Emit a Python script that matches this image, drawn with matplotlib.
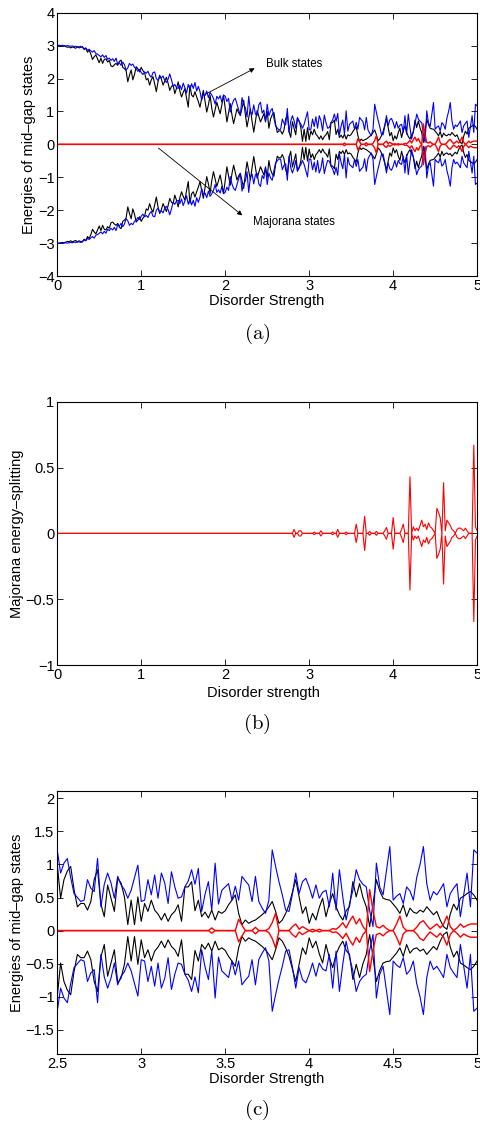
import numpy as np
import matplotlib
matplotlib.use('Agg')
import matplotlib.pyplot as plt

plt.rcParams['font.family'] = ['Liberation Sans', 'DejaVu Sans']
plt.rcParams['mathtext.fontset'] = 'cm'

# disorder strength grid (step 0.02 from 0 to 5)
disorder = np.round(np.arange(251) * 0.02, 2)

# upper bulk state energies (the spectrum is symmetric, lower = -upper)
black_upper = [
    3.00, 3.00, 2.99, 2.98, 2.99, 2.97, 2.95, 2.96, 2.93, 2.96, 2.94, 2.92, 2.96, 2.93, 2.95, 2.97, 2.88, 2.92, 2.80, 2.86, 2.74, 2.58, 2.66, 2.72, 2.60,
    2.48, 2.62, 2.46, 2.58, 2.60, 2.50, 2.55, 2.38, 2.36, 2.42, 2.46, 2.40, 2.52, 2.56, 2.34, 2.30, 2.24, 1.90, 2.10, 2.26, 1.96, 2.12, 2.36, 2.30, 2.20,
    2.34, 2.24, 2.18, 1.96, 2.00, 1.80, 1.96, 2.06, 1.84, 1.60, 1.90, 2.10, 1.98, 1.80, 1.92, 2.04, 1.86, 1.64, 1.76, 1.80, 1.54, 1.70, 1.90, 1.62, 1.44,
    1.58, 1.69, 1.40, 1.13, 1.79, 1.50, 1.44, 1.60, 1.44, 1.30, 1.13, 1.40, 1.64, 1.30, 0.98, 1.20, 1.49, 1.10, 0.83, 1.06, 1.28, 1.10, 0.93, 1.20, 1.49,
    1.10, 0.68, 0.96, 1.24, 0.90, 0.63, 0.85, 1.08, 0.96, 0.88, 1.10, 1.34, 0.90, 0.53, 0.80, 1.08, 0.70, 0.37, 0.70, 1.03, 0.85, 0.68, 0.80, 0.93, 0.70,
    1.00, 0.49, 0.77, 0.90, 0.97, 0.62, 0.36, 0.41, 0.41, 0.31, 0.44, 0.77, 0.92, 0.40, 0.21, 0.69, 0.49, 0.29, 0.79, 0.72, 0.51, 0.09, 0.46, 0.09, 0.51,
    0.14, 0.41, 0.29, 0.46, 0.31, 0.25, 0.16, 0.26, 0.14, 0.24, 0.29, 0.39, 0.14, 0.66, 0.66, 0.74, 0.30, 0.46, 0.21, 0.28, 0.19, 0.31, 0.16, 0.29, 0.26,
    0.30, 0.39, 0.46, 0.54, 0.26, 0.09, 0.16, 0.11, 0.14, 0.16, 0.20, 0.24, 0.29, 0.36, 0.44, 0.29, 0.11, 0.16, 0.26, 0.39, 0.58, 0.77, 0.51, 0.26, 0.36,
    0.11, 0.26, 0.16, 0.35, 0.49, 0.21, 0.41, 0.56, 0.36, 0.24, 0.16, 0.30, 0.36, 0.74, 0.51, 0.71, 0.50, 0.36, 0.06, 0.40, 0.77, 0.60, 0.49, 0.47, 0.46,
    0.40, 0.34, 0.26, 0.39, 0.21, 0.34, 0.28, 0.26, 0.31, 0.28, 0.36, 0.30, 0.24, 0.29, 0.16, 0.06, 0.02, 0.25, 0.40, 0.31, 0.49, 0.52, 0.56, 0.59, 0.54,
    0.46]

blue_upper = [
    3.01, 3.01, 3.00, 3.01, 3.00, 2.99, 3.00, 2.99, 2.98, 2.99, 2.97, 2.98, 2.97, 2.96, 2.98, 2.94, 2.91, 2.93, 2.86, 2.89, 2.84, 2.80, 2.85, 2.76, 2.74,
    2.70, 2.66, 2.72, 2.64, 2.70, 2.58, 2.62, 2.55, 2.60, 2.52, 2.62, 2.44, 2.48, 2.40, 2.50, 2.42, 2.26, 2.32, 2.46, 2.40, 2.44, 2.34, 2.30, 2.22, 2.28,
    2.18, 2.12, 2.20, 2.16, 2.22, 2.10, 2.04, 2.18, 2.20, 2.00, 1.94, 2.06, 2.02, 2.08, 1.94, 1.88, 1.98, 2.14, 1.96, 1.76, 1.82, 1.72, 1.70, 1.80, 1.66,
    1.86, 1.72, 1.56, 1.82, 1.66, 1.84, 1.70, 1.88, 1.62, 1.76, 1.60, 1.34, 1.52, 1.48, 1.62, 1.42, 1.58, 1.50, 1.40, 1.22, 1.46, 1.38, 1.48, 1.28, 1.50,
    1.46, 1.30, 1.40, 0.98, 1.20, 1.34, 1.40, 1.22, 1.05, 0.88, 1.42, 1.20, 1.12, 0.83, 1.46, 1.00, 0.90, 1.20, 0.92, 0.88, 1.20, 1.28, 0.95, 1.04, 0.68,
    1.22, 0.87, 1.02, 1.09, 0.80, 0.56, 0.50, 0.44, 0.46, 0.77, 0.64, 0.59, 1.09, 0.36, 0.70, 0.87, 0.72, 0.49, 0.82, 0.69, 0.62, 0.49, 0.61, 0.80, 0.99,
    0.44, 0.46, 0.77, 0.54, 0.84, 0.49, 0.87, 0.72, 0.41, 0.89, 0.66, 0.49, 0.51, 0.66, 0.75, 0.92, 0.70, 0.94, 0.29, 0.55, 0.74, 0.31, 1.02, 0.40, 0.61,
    0.66, 0.71, 0.46, 0.67, 0.46, 0.82, 0.75, 0.69, 0.44, 0.82, 0.44, 0.34, 0.26, 0.46, 1.22, 0.97, 0.74, 0.54, 0.31, 0.29, 0.55, 0.87, 0.56, 0.74, 0.79,
    0.66, 0.49, 0.69, 0.49, 0.58, 0.61, 0.36, 0.87, 0.31, 0.92, 0.51, 0.16, 0.40, 0.61, 0.92, 0.77, 0.70, 0.66, 0.30, 0.06, 1.02, 0.66, 0.54, 0.90, 1.27,
    0.46, 0.52, 0.56, 0.41, 0.66, 0.60, 0.46, 0.80, 1.00, 1.27, 0.71, 0.46, 0.59, 0.54, 0.62, 0.71, 0.36, 0.56, 0.64, 0.71, 0.21, 0.54, 0.87, 0.36, 1.22,
    1.17]

# Majorana splitting |E| shown in panels (a) and (c)
majorana_ac = [0.0] * 171 + [
    0.04, 0, 0, 0, 0, 0, 0, 0, 0.17, 0.08,
    0, 0, 0, 0.05, 0, 0, 0, 0.03, 0.12, 0.26,
    0, 0, 0, 0, 0.06, 0.10, 0.02, 0.06, 0.03, 0,
    0.02, 0, 0.02, 0, 0, 0, 0.03, 0.02, 0.06, 0.12,
    0.04, 0.14, 0.22, 0.10, 0.18, 0.06, 0.0, 0.62, 0.30, 0.06,
    0.04, 0.08, 0.03, 0, 0, 0.10, 0.22, 0.05, 0, 0,
    0, 0.05, 0.12, 0.15, 0.08, 0.02, 0.06, 0.10, 0.04, 0.10,
    0.22, 0.06, 0, 0.04, 0.10, 0.05, 0.08, 0.10, 0.10, 0.10]

# Majorana energy splitting |E| in panel (b)
majorana_b = [0.0] * 141 + [
    0.03, 0, 0, 0.02, 0.02, 0, 0, 0, 0, 0,
    0, 0, 0.01, 0, 0, 0, 0.02, 0, 0, 0,
    0, 0, 0, 0.01, 0, 0, 0.03, 0, 0, 0,
    0, 0.01, 0, 0, 0, 0, 0, 0.07, 0, 0,
    0, 0, 0.13, 0, 0, 0.015, 0, 0, 0, 0.015,
    0, 0, 0, 0, 0.02, 0.045, 0, 0, 0, 0.12,
    0, 0, 0, 0, 0.03, 0.07, 0, 0, 0, 0.43,
    0, 0.05, 0.02, 0.04, 0.02, 0.06, 0.10, 0.05, 0.07, 0.03,
    0.08, 0.05, 0.04, 0.02, 0, 0.19, 0.16, 0.12, 0, 0.385,
    0.02, 0.10, 0.08, 0.06, 0.03, 0.02, 0, 0.03, 0.04, 0.04,
    0.03, 0.02, 0.04, 0.02, 0, 0, 0, 0.67, 0.05, 0.02]

black_upper = np.array(black_upper)
blue_upper = np.array(blue_upper)
majorana_ac = np.array(majorana_ac)
majorana_b = np.array(majorana_b)

fs = 10.5
lw = 0.8
H = 1123.0


def style(ax):
    ax.tick_params(direction='in', top=True, right=True, labelsize=fs, length=4, width=0.6, pad=2)
    for s in ax.spines.values():
        s.set_linewidth(0.8)


def spectrum(ax):
    ax.plot(disorder, black_upper, color='k', lw=lw)
    ax.plot(disorder, -black_upper, color='k', lw=lw)
    ax.plot(disorder, blue_upper, color='b', lw=lw)
    ax.plot(disorder, -blue_upper, color='b', lw=lw)
    ax.plot(disorder, majorana_ac, color='r', lw=1.0)
    ax.plot(disorder, -majorana_ac, color='r', lw=1.0)


fig = plt.figure(figsize=(4.81, 11.23), dpi=100)

# (a)
ax1 = fig.add_axes([0.119, 0.7542, 0.873, 0.2345])
spectrum(ax1)
ax1.set_xlim(0, 5)
ax1.set_ylim(-4, 4)
ax1.set_xticks(range(6))
ax1.set_yticks(range(-4, 5))
ax1.set_yticklabels(['\u22124', '\u22123', '\u22122', '\u22121', '0', '1', '2', '3', '4'])
ax1.set_ylabel('Energies of mid\u2013gap states', fontsize=fs, labelpad=1)
ax1.annotate('', xy=(2.38, 2.35), xytext=(1.74, 1.49),
             arrowprops=dict(arrowstyle='-|>', color='k', lw=0.6, mutation_scale=7))
ax1.text(2.49, 2.43, 'Bulk states', fontsize=8.3, va='center')
ax1.annotate('', xy=(2.23, -2.21), xytext=(1.18, -0.06),
             arrowprops=dict(arrowstyle='-|>', color='k', lw=0.6, mutation_scale=7))
ax1.text(2.33, -2.37, 'Majorana states', fontsize=8.3, va='center')
style(ax1)
fig.text(0.555, 1 - 301 / H, 'Disorder Strength', ha='center', va='center', fontsize=fs)
fig.text(0.534, 1 - 334 / H, r'$\mathrm{(a)}$', ha='center', va='center', fontsize=15)

# (b)
ax2 = fig.add_axes([0.119, 0.4078, 0.873, 0.2345])
ax2.plot(disorder, majorana_b, color='r', lw=lw)
ax2.plot(disorder, -majorana_b, color='r', lw=lw)
ax2.set_xlim(0, 5)
ax2.set_ylim(-1, 1)
ax2.set_xticks(range(6))
ax2.set_yticks([-1, -0.5, 0, 0.5, 1])
ax2.set_yticklabels(['\u22121', '\u22120.5', '0', '0.5', '1'])
ax2.set_ylabel('Majorana energy\u2013splitting', fontsize=fs, labelpad=1)
style(ax2)
fig.text(0.548, 1 - 693 / H, 'Disorder strength', ha='center', va='center', fontsize=fs)
fig.text(0.534, 1 - 724 / H, r'$\mathrm{(b)}$', ha='center', va='center', fontsize=15)

# (c)
ax3 = fig.add_axes([0.119, 0.0612, 0.873, 0.2347])
spectrum(ax3)
ax3.set_xlim(2.5, 5)
ax3.set_ylim(-1.87, 2.115)
ax3.set_xticks([2.5, 3, 3.5, 4, 4.5, 5])
ax3.set_xticklabels(['2.5', '3', '3.5', '4', '4.5', '5'])
ax3.set_yticks([-1.5, -1, -0.5, 0, 0.5, 1, 1.5, 2])
ax3.set_yticklabels(['\u22121.5', '\u22121', '\u22120.5', '0', '0.5', '1', '1.5', '2'])
ax3.set_ylabel('Energies of mid\u2013gap states', fontsize=fs, labelpad=1)
style(ax3)
fig.text(0.555, 1 - 1079 / H, 'Disorder Strength', ha='center', va='center', fontsize=fs)
fig.text(0.534, 1 - 1110 / H, r'$\mathrm{(c)}$', ha='center', va='center', fontsize=15)

fig.savefig('out.png', dpi=100)
